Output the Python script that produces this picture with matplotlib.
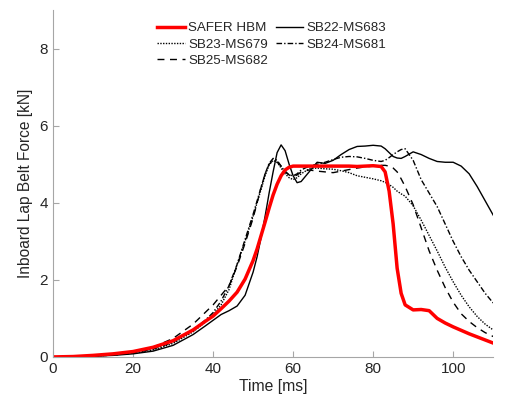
import matplotlib
matplotlib.use("Agg")
import matplotlib.pyplot as plt

plt.rcParams['font.family'] = ['Liberation Sans', 'DejaVu Sans']

t = [0, 5, 10, 15, 20, 25, 30, 35, 38, 40, 42, 44, 46, 48, 50, 51, 52, 53, 54, 55, 56, 57, 58, 59, 60, 61, 62,
     64, 66, 68, 70, 72, 74, 76, 78, 80, 82, 83, 84, 85, 86, 87, 88, 90, 92, 94, 96, 98, 100, 102, 104, 106, 108, 110]

safer = [0, 0.01, 0.04, 0.08, 0.14, 0.25, 0.42, 0.7, 0.92, 1.06, 1.25, 1.45, 1.68, 2.02, 2.5, 2.8, 3.15, 3.5, 3.86, 4.2,
         4.48, 4.7, 4.85, 4.92, 4.95, 4.95, 4.95, 4.95, 4.95, 4.95, 4.95, 4.95, 4.95, 4.94, 4.95, 4.96, 4.94, 4.8, 4.3,
         3.45, 2.3, 1.65, 1.35, 1.22, 1.23, 1.2, 1.0, 0.88, 0.78, 0.69, 0.6, 0.52, 0.44, 0.36]

sb22 = [0, 0.0, 0.02, 0.04, 0.08, 0.15, 0.3, 0.58, 0.8, 0.95, 1.1, 1.2, 1.32, 1.6, 2.2, 2.6, 3.1, 3.65, 4.25, 4.8,
        5.3, 5.5, 5.35, 5.0, 4.7, 4.52, 4.55, 4.8, 5.05, 5.02, 5.1, 5.25, 5.38, 5.46, 5.47, 5.49, 5.47, 5.4, 5.3,
        5.2, 5.16, 5.15, 5.2, 5.32, 5.25, 5.15, 5.07, 5.05, 5.05, 4.95, 4.75, 4.42, 4.05, 3.68]

sb23 = [0, 0.0, 0.02, 0.05, 0.1, 0.18, 0.35, 0.65, 0.9, 1.1, 1.35, 1.75, 2.4, 3.0, 3.65, 4.0, 4.35, 4.7, 4.98, 5.1,
        5.05, 4.9, 4.75, 4.65, 4.6, 4.65, 4.75, 4.88, 4.9, 4.88, 4.87, 4.83, 4.78, 4.7, 4.66, 4.62, 4.57, 4.53, 4.47,
        4.4, 4.3, 4.23, 4.17, 3.92, 3.55, 3.15, 2.75, 2.33, 1.95, 1.6, 1.3, 1.05, 0.85, 0.7]

sb24 = [0, 0.0, 0.02, 0.05, 0.1, 0.2, 0.38, 0.7, 0.95, 1.15, 1.45, 1.85, 2.4, 3.05, 3.7, 4.05, 4.4, 4.75, 5.02, 5.15,
        5.1, 4.95, 4.8, 4.72, 4.7, 4.75, 4.85, 4.95, 5.0, 5.05, 5.12, 5.18, 5.2, 5.19, 5.15, 5.1, 5.07, 5.1, 5.17,
        5.25, 5.32, 5.38, 5.4, 5.1, 4.6, 4.25, 3.9, 3.45, 3.0, 2.6, 2.25, 1.95, 1.65, 1.4]

sb25 = [0, 0.0, 0.02, 0.05, 0.12, 0.25, 0.48, 0.85, 1.15, 1.35, 1.6, 1.85, 2.35, 2.95, 3.6, 4.0, 4.4, 4.75, 5.0, 5.1,
        5.05, 4.95, 4.82, 4.72, 4.68, 4.72, 4.8, 4.85, 4.82, 4.8, 4.78, 4.82, 4.86, 4.9, 4.93, 4.95, 4.97, 4.97, 4.95,
        4.9, 4.8, 4.62, 4.42, 3.95, 3.35, 2.75, 2.25, 1.8, 1.42, 1.12, 0.92, 0.76, 0.63, 0.53]

labels = ["SAFER HBM", "SB22-MS683", "SB23-MS679", "SB24-MS681", "SB25-MS682"]
xticks = [0, 20, 40, 60, 80, 100]
yticks = [0, 2, 4, 6, 8]

fig = plt.figure(figsize=(5.10, 4.16), dpi=100)
ax = fig.add_axes([0.104, 0.142, 0.863, 0.834])

h22, = ax.plot(t, sb22, color='black', lw=1.0, ls='-', label=labels[1])
h23, = ax.plot(t, sb23, color='black', lw=1.0, ls=(0, (1, 1)), label=labels[2])
h24, = ax.plot(t, sb24, color='black', lw=1.0, ls=(0, (4, 1.5, 1, 1.5)), label=labels[3])
h25, = ax.plot(t, sb25, color='black', lw=1.0, ls=(0, (5, 4)), label=labels[4])
hs, = ax.plot(t, safer, color='#ff0000', lw=2.5, ls='-', label=labels[0])

ax.set_xlim(0, 110)
ax.set_ylim(0, 9)
ax.set_xticks(xticks)
ax.set_yticks(yticks)
for s in ['top', 'right']:
    ax.spines[s].set_visible(False)
for s in ['left', 'bottom']:
    ax.spines[s].set_color('#a6a6a6')
    ax.spines[s].set_linewidth(0.8)
ax.tick_params(direction='in', length=4, color='#a6a6a6', labelcolor='#262626', labelsize=11)
ax.set_xlabel("Time [ms]", fontsize=11.3, color='#262626', labelpad=2)
ax.set_ylabel("Inboard Lap Belt Force [kN]", fontsize=11.2, color='#262626', labelpad=5)

leg = ax.legend([hs, h23, h25, h22, h24],
                [labels[0], labels[2], labels[4], labels[1], labels[3]],
                ncol=2, loc='upper left', bbox_to_anchor=(0.21, 1.0), frameon=False,
                fontsize=9.6, handlelength=2.05, handletextpad=0.25, columnspacing=0.6,
                labelspacing=0.3)
for txt in leg.get_texts():
    txt.set_color('#262626')

fig.savefig("out.png", dpi=100)
